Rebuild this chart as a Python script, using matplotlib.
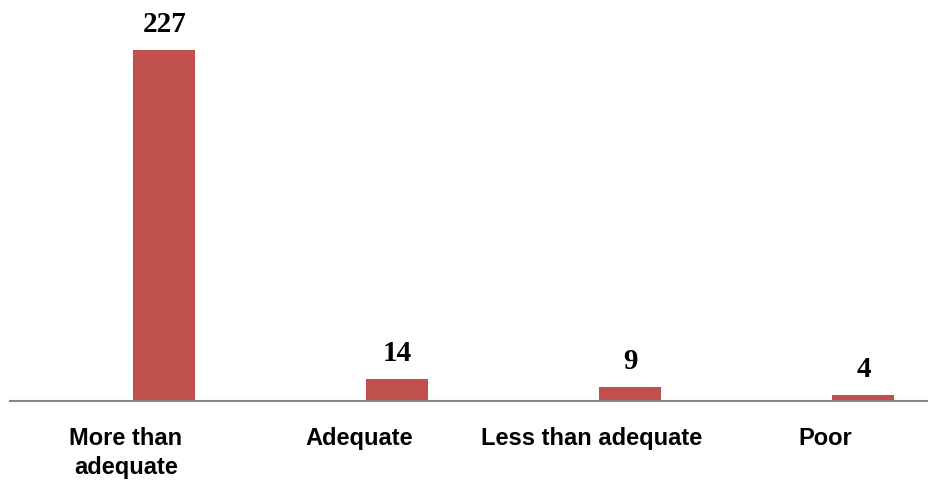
import matplotlib
matplotlib.use("Agg")
import matplotlib.pyplot as plt
import numpy as np

# Data
categories = ["More than\nadequate", "Adequate", "Less than adequate", "Poor"]
counts = [227, 14, 9, 4]

BAR_COLOR = "#C0504D"

fig = plt.figure(figsize=(9.29, 4.84), dpi=100)
# axes spans past the right edge, like the cropped original
ax = fig.add_axes([9.5 / 929, 83 / 484, 932 / 929, 260 * 1.546 / 484])

x = np.arange(len(categories))
offset = 0.165  # bars sit right of the category centre
bars = ax.bar(x + offset, counts, width=0.266, color=BAR_COLOR, zorder=2)

# value labels above the bars
for xi, val in zip(x, counts):
    ax.annotate(str(val), xy=(xi + offset, val), xytext=(0, 13),
                textcoords="offset points", ha="center", va="baseline",
                fontsize=21, fontweight="bold", family="Liberation Serif")

ax.set_xlim(-0.5, len(categories) - 0.5)
ax.set_ylim(0, 260)

ax.set_xticks(x)
ax.set_xticklabels(categories, fontsize=17, fontweight="bold",
                   family="Liberation Sans", linespacing=1.3, va="top")
ax.tick_params(axis="x", length=0, pad=19)
ax.set_yticks([])

for side in ["top", "right", "left"]:
    ax.spines[side].set_visible(False)
ax.spines["bottom"].set_color("#868686")
ax.spines["bottom"].set_linewidth(1.5)

fig.savefig("out.png", dpi=100)
